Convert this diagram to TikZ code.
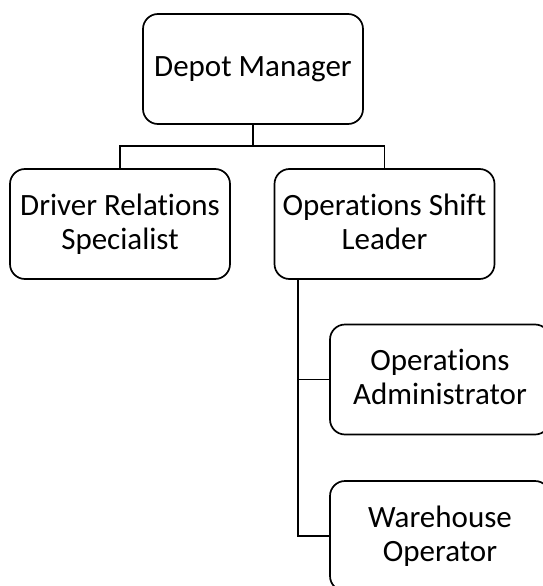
\documentclass[tikz,border=0pt]{standalone}
\usepackage{fontspec}
\setmainfont{Carlito}[Ligatures=NoCommon]
\usetikzlibrary{positioning}

\begin{document}
\begin{tikzpicture}[x=1pt, y=-1pt,
    box/.style={draw, line width=1.7pt, rounded corners=15pt, minimum width=220pt, minimum height=110pt, inner sep=0pt, align=center, font=\fontsize{31}{34}\selectfont, execute at end node={\vphantom{p}}},
    link/.style={line width=1.3pt}]
    \useasboundingbox (0,0) rectangle (543,586);

    \node[box] (DM) at (253,69) {Depot Manager};
    \node[box] (DRS) at (120,224) {Driver Relations\\Specialist};
    \node[box] (OSL) at (384.5,224) {Operations Shift\\Leader};
    \node[box] (OA) at (440,379.5) {Operations\\Administrator};
    \node[box] (WO) at (440,536) {Warehouse\\Operator};

    \coordinate (fork) at (253,146);
    \coordinate (spine) at (298,279);

    \draw[link] (DM) -- (fork);
    \draw[link] (DRS.north) |- (fork) -| (OSL.north);
    \draw[link] (spine) |- (OA.west);
    \draw[link] (spine) |- (WO.west);
\end{tikzpicture}
\end{document}
